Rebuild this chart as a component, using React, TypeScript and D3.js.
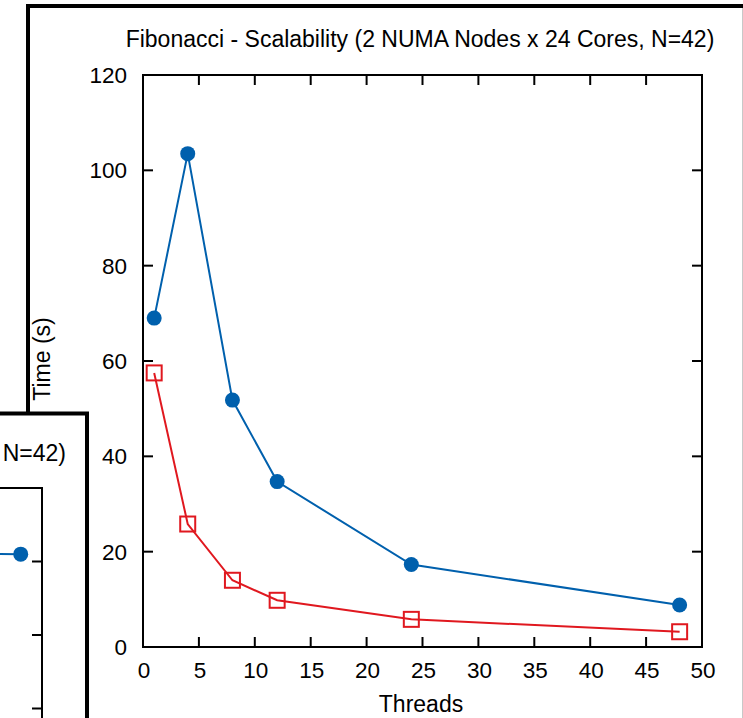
import React from 'react';
import * as d3 from 'd3';

// main chart data
const threads = [1, 4, 8, 12, 24, 48];
const timeBlue = [69, 103.5, 51.8, 34.7, 17.3, 8.8];
const timeRed = [57.5, 25.8, 14, 9.8, 5.8, 3.2];
const xTicks = [0, 5, 10, 15, 20, 25, 30, 35, 40, 45, 50];
const yTicks = [0, 20, 40, 60, 80, 100, 120];
const title = 'Fibonacci - Scalability (2 NUMA Nodes x 24 Cores, N=42)';

// the window behind, only its corner shows
const backThreads = [24, 48];
const backTime = [102.2, 102.0];
const backTicks = [100, 80, 60];
const backTitleTail = 'N=42)';

const W = 743;
const H = 718;
const font = '"Liberation Sans", Arial, Helvetica, sans-serif';
const blue = '#0060ad';
const red = '#e0181f';

const App = () => {
  const margin = { top: 75, right: 41, bottom: 71, left: 143 };
  const x = d3.scaleLinear().domain([0, 50]).range([margin.left, W - margin.right]);
  const y = d3.scaleLinear().domain([0, 120]).range([H - margin.bottom, margin.top]);

  const line = d3
    .line<number>()
    .x((d, i) => x(threads[i]))
    .y((d) => y(d));

  // back panel scales
  const bx = d3.scaleLinear().domain([0, 50]).range([-490, 42]);
  const by = d3.scaleLinear().domain([0, 120]).range([929, 488]);
  const backLine = d3
    .line<number>()
    .x((d, i) => bx(backThreads[i]))
    .y((d) => by(d));

  const x0 = x(0);
  const x1 = x(50);
  const y0 = y(0);
  const y1 = y(120);
  const tick = 10;

  return (
    <svg
      width={W}
      height={H}
      style={{ position: 'absolute', left: 0, top: 0, background: '#fff' }}
      fontFamily={font}
    >
      <rect x={0} y={0} width={W} height={H} fill="#fff" />
      {/* main window */}
      <rect x={28} y={6} width={900} height={900} fill="#fff" stroke="#000" strokeWidth={4} />
      <line x1={742.5} x2={742.5} y1={8} y2={H} stroke="#c8c8c8" strokeWidth={1} />

      <text x={420} y={47} fontSize={23} textAnchor="middle" fill="#000">
        {title}
      </text>

      {/* frame */}
      <rect x={x0} y={y1} width={x1 - x0} height={y0 - y1} fill="none" stroke="#000" strokeWidth={2} />

      {xTicks.map((t) => (
        <g key={'x' + t}>
          <line x1={x(t)} x2={x(t)} y1={y0} y2={y0 - tick} stroke="#000" strokeWidth={2} />
          <line x1={x(t)} x2={x(t)} y1={y1} y2={y1 + tick} stroke="#000" strokeWidth={2} />
          <text x={x(t) + 1} y={678} fontSize={22.5} textAnchor="middle">
            {t}
          </text>
        </g>
      ))}
      {yTicks.map((t) => (
        <g key={'y' + t}>
          <line x1={x0} x2={x0 + tick} y1={y(t)} y2={y(t)} stroke="#000" strokeWidth={2} />
          <line x1={x1} x2={x1 - tick} y1={y(t)} y2={y(t)} stroke="#000" strokeWidth={2} />
          <text x={127} y={y(t) + 8} fontSize={22.5} textAnchor="end">
            {t}
          </text>
        </g>
      ))}

      <text x={421} y={712} fontSize={23} textAnchor="middle">
        Threads
      </text>
      <text transform="translate(50,359) rotate(-90)" fontSize={23} textAnchor="middle">
        Time (s)
      </text>

      {/* series */}
      <path d={line(timeBlue) || ''} fill="none" stroke={blue} strokeWidth={2} />
      {timeBlue.map((v, i) => (
        <circle key={'b' + i} cx={x(threads[i])} cy={y(v)} r={7.5} fill={blue} />
      ))}
      <path d={line(timeRed) || ''} fill="none" stroke={red} strokeWidth={2} />
      {timeRed.map((v, i) => (
        <rect
          key={'r' + i}
          x={x(threads[i]) - 7.5}
          y={y(v) - 7.5}
          width={15}
          height={15}
          fill="none"
          stroke={red}
          strokeWidth={2}
        />
      ))}

      {/* window behind, lower left */}
      <rect x={-20} y={413.5} width={107} height={400} fill="#fff" stroke="#000" strokeWidth={4} />
      <text x={66} y={461} fontSize={23} textAnchor="end">
        {backTitleTail}
      </text>
      <line x1={-5} x2={42} y1={488} y2={488} stroke="#000" strokeWidth={2} />
      <line x1={42} x2={42} y1={487} y2={H} stroke="#000" strokeWidth={2} />
      {backTicks.map((t) => (
        <line key={'bt' + t} x1={32} x2={42} y1={by(t)} y2={by(t)} stroke="#000" strokeWidth={2} />
      ))}
      <path d={backLine(backTime) || ''} fill="none" stroke={blue} strokeWidth={2} />
      <circle cx={bx(backThreads[1])} cy={by(backTime[1])} r={7.5} fill={blue} />
    </svg>
  );
};

export default App;
